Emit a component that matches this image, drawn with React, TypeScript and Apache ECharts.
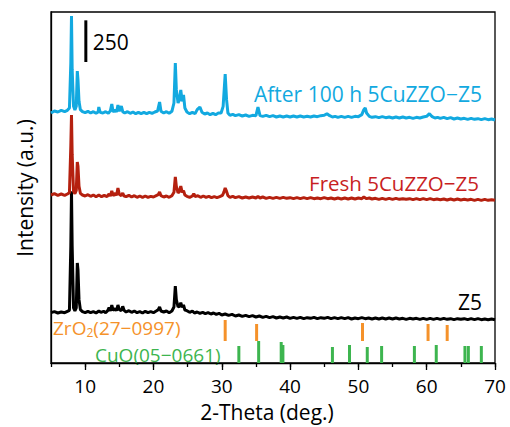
import React, { useEffect, useRef } from "react";
import * as echarts from "echarts";

// 2-Theta (deg.) vs intensity (counts, stacked with offsets)
const z5: number[][] = [
  [5, 302], [5.5, 308], [6, 300], [6.5, 306], [7, 302], [7.4, 310], [7.7, 316], [7.9, 700], [8.0, 1030], [8.1, 700], [8.3, 330], [8.5, 312], [8.7, 330], [8.85, 600], [8.95, 560], [9.1, 380], [9.3, 320], [9.6, 308],
  [10, 302], [10.4, 310], [10.8, 302], [11.2, 308], [11.6, 300], [12.0, 312], [12.3, 304], [12.7, 310], [13.0, 302], [13.3, 314], [13.5, 332], [13.7, 312], [13.9, 348], [14.1, 316], [14.4, 326], [14.6, 314], [14.8, 348], [15.0, 320], [15.3, 314], [15.5, 340], [15.7, 316],
  [16.0, 306], [16.4, 314], [16.8, 304], [17.2, 312], [17.6, 302], [18.0, 308], [18.4, 300], [18.8, 310], [19.2, 302], [19.6, 308], [20.0, 302], [20.4, 312], [20.7, 320], [20.9, 336], [21.1, 312], [21.5, 306], [21.9, 312], [22.3, 302], [22.7, 312],
  [23.0, 336], [23.2, 462], [23.35, 380], [23.6, 336], [23.8, 340], [24.0, 362], [24.2, 334], [24.4, 348], [24.6, 318], [24.9, 314], [25.3, 304], [25.7, 312], [26.0, 300], [26.4, 306], [26.8, 298], [27.2, 304], [27.6, 296], [28.0, 302], [28.4, 294], [28.8, 300], [29.2, 292], [29.6, 298],
  [30.0, 288], [30.5, 294], [31.0, 286], [31.5, 292], [32.0, 282], [32.5, 288], [33.0, 280], [33.5, 286], [34.0, 278], [34.5, 284], [35.0, 276], [35.5, 282], [36.0, 274], [36.5, 280], [37.0, 272], [37.5, 278], [38.0, 270], [38.5, 276], [39.0, 270], [39.5, 276],
  [40.0, 268], [40.5, 274], [41.0, 268], [41.5, 274], [42.0, 266], [42.5, 272], [43.0, 268], [43.5, 274], [44.0, 266], [44.5, 272], [45.0, 268], [45.5, 274], [46.0, 266], [46.5, 272], [47.0, 266], [47.5, 272], [48.0, 266], [48.5, 272], [49.0, 264], [49.5, 270],
  [50.0, 266], [50.5, 272], [51.0, 266], [51.5, 270], [52.0, 264], [52.5, 270], [53.0, 264], [53.5, 270], [54.0, 264], [54.5, 270], [55.0, 264], [55.5, 270], [56.0, 264], [56.5, 268], [57.0, 262], [57.5, 268], [58.0, 264], [58.5, 268], [59.0, 262], [59.5, 268],
  [60.0, 262], [60.5, 268], [61.0, 262], [61.5, 268], [62.0, 262], [62.5, 268], [63.0, 262], [63.5, 266], [64.0, 260], [64.5, 266], [65.0, 262], [65.5, 266], [66.0, 260], [66.5, 266], [67.0, 260], [67.5, 266], [68.0, 260], [68.5, 264], [69.0, 260], [69.5, 264], [70.0, 260],
];

const fresh: number[][] = [
  [5, 1008], [5.5, 1016], [6, 1006], [6.5, 1014], [7, 1006], [7.4, 1014], [7.7, 1022], [7.9, 1300], [8.0, 1488], [8.1, 1250], [8.3, 1030], [8.5, 1016], [8.7, 1036], [8.85, 1206], [8.95, 1180], [9.1, 1060], [9.3, 1018], [9.6, 1008],
  [10, 1002], [10.4, 1010], [10.8, 1000], [11.2, 1008], [11.6, 998], [12.0, 1008], [12.4, 998], [12.8, 1006], [13.2, 998], [13.5, 1014], [13.7, 1002], [13.9, 1032], [14.1, 1004], [14.4, 1018], [14.6, 1006], [14.8, 1050], [15.0, 1012], [15.3, 1004], [15.5, 1020], [15.7, 1002],
  [16.0, 998], [16.4, 1006], [16.8, 996], [17.2, 1004], [17.6, 994], [18.0, 1002], [18.4, 994], [18.8, 1002], [19.2, 994], [19.6, 1000], [20.0, 996], [20.4, 1004], [20.7, 1010], [20.9, 1026], [21.1, 1004], [21.5, 996], [21.9, 1002], [22.3, 994], [22.7, 1004],
  [23.0, 1024], [23.2, 1116], [23.35, 1060], [23.6, 1020], [23.8, 1030], [24.0, 1062], [24.2, 1024], [24.4, 1034], [24.6, 1008], [24.9, 1000], [25.3, 994], [25.7, 1002], [25.9, 1016], [26.1, 998], [26.5, 1004], [26.9, 994], [27.3, 1002], [27.7, 994], [28.1, 1000], [28.5, 992], [28.9, 998], [29.3, 992], [29.7, 998],
  [30.1, 1006], [30.3, 1024], [30.5, 1050], [30.7, 1030], [30.9, 1004], [31.2, 994], [31.6, 1000], [32.0, 992], [32.5, 998], [33.0, 990], [33.5, 996], [34.0, 990], [34.5, 996], [35.0, 990], [35.3, 1000], [35.6, 990], [36.0, 996], [36.5, 988], [37.0, 994], [37.5, 988], [38.0, 994], [38.5, 988], [39.0, 994], [39.5, 988],
  [40.0, 992], [40.5, 986], [41.0, 992], [41.5, 986], [42.0, 992], [42.5, 986], [43.0, 992], [43.5, 986], [44.0, 990], [44.5, 986], [45.0, 992], [45.5, 986], [46.0, 990], [46.5, 984], [47.0, 990], [47.5, 984], [48.0, 990], [48.5, 984], [49.0, 990], [49.5, 984],
  [50.0, 990], [50.5, 986], [50.8, 996], [51.2, 986], [51.6, 990], [52.0, 984], [52.5, 988], [53.0, 982], [53.5, 988], [54.0, 982], [54.5, 988], [55.0, 982], [55.5, 988], [56.0, 982], [56.5, 986], [57.0, 982], [57.5, 986], [58.0, 980], [58.5, 986], [59.0, 980], [59.5, 986],
  [60.0, 980], [60.5, 986], [61.0, 980], [61.5, 984], [62.0, 980], [62.5, 984], [63.0, 978], [63.5, 984], [64.0, 978], [64.5, 984], [65.0, 978], [65.5, 982], [66.0, 978], [66.5, 982], [67.0, 976], [67.5, 982], [68.0, 976], [68.5, 982], [69.0, 976], [69.5, 980], [70.0, 976],
];

const after: number[][] = [
  [5, 1500], [5.5, 1512], [6, 1506], [6.5, 1516], [7, 1508], [7.4, 1516], [7.7, 1530], [7.9, 1800], [8.0, 2082], [8.1, 1760], [8.3, 1540], [8.5, 1518], [8.7, 1540], [8.85, 1752], [8.95, 1700], [9.1, 1570], [9.3, 1520], [9.6, 1508],
  [10, 1502], [10.4, 1510], [10.8, 1500], [11.2, 1508], [11.6, 1498], [11.9, 1506], [12.0, 1536], [12.2, 1504], [12.6, 1500], [13.0, 1508], [13.4, 1498], [13.7, 1514], [13.9, 1554], [14.1, 1506], [14.4, 1520], [14.6, 1506], [14.8, 1548], [15.0, 1510], [15.3, 1542], [15.5, 1508], [15.8, 1500],
  [16.2, 1508], [16.6, 1498], [17.0, 1506], [17.4, 1496], [17.8, 1504], [18.2, 1496], [18.6, 1504], [19.0, 1496], [19.4, 1504], [19.8, 1498], [20.2, 1506], [20.6, 1512], [20.9, 1566], [21.1, 1510], [21.5, 1500], [21.9, 1508], [22.3, 1498], [22.7, 1510],
  [23.0, 1560], [23.2, 1800], [23.35, 1640], [23.6, 1560], [23.8, 1580], [24.0, 1638], [24.2, 1570], [24.4, 1608], [24.6, 1530], [24.9, 1506], [25.3, 1496], [25.7, 1504], [26.1, 1496], [26.4, 1520], [26.8, 1536], [27.1, 1504], [27.5, 1494], [27.9, 1500], [28.3, 1490], [28.7, 1498], [29.1, 1490], [29.5, 1500],
  [29.9, 1500], [30.2, 1540], [30.5, 1734], [30.7, 1580], [30.9, 1500], [31.2, 1486], [31.6, 1492], [32.0, 1484], [32.5, 1490], [33.0, 1482], [33.5, 1488], [34.0, 1480], [34.5, 1486], [35.0, 1484], [35.3, 1536], [35.6, 1484], [36.0, 1480], [36.5, 1486], [37.0, 1478], [37.5, 1484], [38.0, 1476], [38.5, 1482], [39.0, 1476], [39.5, 1482],
  [40.0, 1476], [40.5, 1482], [41.0, 1476], [41.5, 1482], [42.0, 1476], [42.5, 1480], [43.0, 1476], [43.5, 1482], [44.0, 1478], [44.5, 1484], [45.0, 1486], [45.4, 1496], [45.8, 1484], [46.2, 1476], [46.6, 1480], [47.0, 1474], [47.5, 1480], [48.0, 1474], [48.5, 1480], [49.0, 1474], [49.5, 1480],
  [50.0, 1478], [50.5, 1490], [50.8, 1520], [51.0, 1530], [51.2, 1500], [51.6, 1480], [52.0, 1474], [52.5, 1478], [53.0, 1472], [53.5, 1478], [54.0, 1472], [54.5, 1476], [55.0, 1470], [55.5, 1476], [56.0, 1470], [56.5, 1476], [57.0, 1470], [57.5, 1474], [58.0, 1468], [58.5, 1474], [59.0, 1470], [59.5, 1476],
  [60.0, 1480], [60.4, 1496], [60.8, 1478], [61.2, 1470], [61.6, 1474], [62.0, 1468], [62.5, 1474], [63.0, 1466], [63.5, 1472], [64.0, 1464], [64.5, 1470], [65.0, 1464], [65.5, 1468], [66.0, 1462], [66.5, 1468], [67.0, 1462], [67.5, 1466], [68.0, 1460], [68.5, 1466], [69.0, 1460], [69.5, 1464], [70.0, 1458],
];

// Reference patterns (stick positions and heights)
const zro2Pos = [30.5, 35.1, 50.6, 60.2, 63.0];
const zro2Height = [126, 102, 108, 102, 96];
const cuoPos = [32.5, 35.4, 38.7, 38.95, 46.2, 48.7, 51.3, 53.4, 58.2, 61.4, 65.6, 66.1, 68.0];
const cuoHeight = [102, 132, 126, 108, 96, 108, 96, 102, 102, 108, 102, 102, 102];
const ZRO2_BASE = 132;
const CUO_BASE = 0;

// Scale bar (250 counts)
const scaleBar = [[10.1, 1806, 2056]];
const scaleLabel = "250";

const majorTicks = [10, 20, 30, 40, 50, 60, 70];

const FONT = "'Open Sans', 'Noto Sans', sans-serif";
const BLACK = "#000000";
const RED = "#B5200F";
const BLUE = "#12A9E0";
const ORANGE = "#F5922A";
const GREEN = "#3DB54F";

function stickSeries(pos: number[], h: number[], base: number, color: string) {
  return {
    type: "custom",
    xAxisIndex: 0,
    yAxisIndex: 0,
    encode: { x: 0, y: [1, 2] },
    data: pos.map((x, i) => [x, base, base + h[i]]),
    renderItem: (_p: any, api: any) => {
      const a = api.coord([api.value(0), api.value(1)]);
      const b = api.coord([api.value(0), api.value(2)]);
      return {
        type: "line",
        shape: { x1: a[0], y1: a[1], x2: b[0], y2: b[1] },
        style: { stroke: color, lineWidth: 3 },
      };
    },
    z: 3,
  };
}

function textWidth(t: string, size: number): number {
  const c = document.createElement("canvas").getContext("2d");
  if (!c) return t.length * size * 0.55;
  c.font = `${size}px ${FONT}`;
  return c.measureText(t).width;
}

export default function App() {
  const ref = useRef<HTMLDivElement>(null);
  useEffect(() => {
    if (!ref.current) return;
    const chart = echarts.init(ref.current, undefined, { renderer: "svg" });
    const lineBase = {
      type: "line",
      showSymbol: false,
      symbol: "none",
      xAxisIndex: 0,
      yAxisIndex: 0,
    };
    const zrX = 53;
    const zrY = 328;
    const wZrO = textWidth("ZrO", 19);
    const wSub = textWidth("2", 12);
    chart.setOption({
      animation: false,
      grid: { left: 51, right: 15, top: 12, bottom: 64, show: true, borderColor: "#000", borderWidth: 1.3, backgroundColor: "transparent" },
      xAxis: [
        {
          type: "value",
          min: 5,
          max: 70,
          interval: 5,
          position: "bottom",
          axisLine: { show: true, lineStyle: { color: "#000", width: 1.3 } },
          axisTick: { show: true, length: 4, lineStyle: { color: "#000", width: 1.3 } },
          axisLabel: {
            color: "#000",
            fontSize: 19,
            fontFamily: FONT,
            margin: 13,
            formatter: (v: number) => (v % 10 === 0 ? String(v) : ""),
          },
          splitLine: { show: false },
        },
        {
          type: "value",
          min: 5,
          max: 70,
          interval: 5,
          position: "bottom",
          axisLine: { show: false },
          axisTick: { show: true, length: 7, customValues: majorTicks, lineStyle: { color: "#000", width: 1.3 } },
          axisLabel: { show: false },
          splitLine: { show: false },
        },
      ],
      yAxis: {
        type: "value",
        min: 0,
        max: 2106,
        axisLine: { show: true, lineStyle: { color: "#000", width: 1.3 } },
        axisTick: { show: false },
        axisLabel: { show: false },
        splitLine: { show: false },
      },
      series: [
        { ...lineBase, name: "Z5", data: z5, lineStyle: { color: BLACK, width: 3 }, z: 2 },
        { ...lineBase, name: "Fresh 5CuZZO−Z5", data: fresh, lineStyle: { color: RED, width: 3 }, z: 2 },
        { ...lineBase, name: "After 100 h 5CuZZO−Z5", data: after, lineStyle: { color: BLUE, width: 3 }, z: 2 },
        stickSeries(zro2Pos, zro2Height, ZRO2_BASE, ORANGE),
        stickSeries(cuoPos, cuoHeight, CUO_BASE, GREEN),
        {
          type: "custom",
          xAxisIndex: 0,
          yAxisIndex: 0,
          encode: { x: 0, y: [1, 2] },
          data: scaleBar,
          renderItem: (_p: any, api: any) => {
            const a = api.coord([api.value(0), api.value(1)]);
            const b = api.coord([api.value(0), api.value(2)]);
            return {
              type: "group",
              children: [
                { type: "line", shape: { x1: a[0], y1: a[1], x2: b[0], y2: b[1] }, style: { stroke: "#000", lineWidth: 3 } },
                {
                  type: "text",
                  x: a[0] + 7,
                  y: (a[1] + b[1]) / 2 + 1,
                  style: { text: scaleLabel, fill: "#000", fontSize: 21, fontFamily: FONT, align: "left", verticalAlign: "middle" },
                },
              ],
            };
          },
          z: 4,
        },
      ],
      graphic: [
        { type: "text", x: 482, y: 94, style: { text: "After 100 h 5CuZZO−Z5", fill: BLUE, fontSize: 21, fontFamily: FONT, align: "right", verticalAlign: "middle" } },
        { type: "text", x: 479, y: 183, style: { text: "Fresh 5CuZZO−Z5", fill: "#C81E22", fontSize: 20.5, fontFamily: FONT, align: "right", verticalAlign: "middle" } },
        { type: "text", x: 482, y: 302, style: { text: "Z5", fill: "#000", fontSize: 21, fontFamily: FONT, align: "right", verticalAlign: "middle" } },
        { type: "text", x: zrX, y: zrY, style: { text: "ZrO", fill: ORANGE, fontSize: 19, fontFamily: FONT, align: "left", verticalAlign: "middle" } },
        { type: "text", x: zrX + wZrO, y: zrY + 4.5, style: { text: "2", fill: ORANGE, fontSize: 12, fontFamily: FONT, align: "left", verticalAlign: "middle" } },
        { type: "text", x: zrX + wZrO + wSub, y: zrY, style: { text: "(27−0997)", fill: ORANGE, fontSize: 19, fontFamily: FONT, align: "left", verticalAlign: "middle" } },
        { type: "text", x: 95, y: 354.5, style: { text: "CuO(05−0661)", fill: GREEN, fontSize: 19, fontFamily: FONT, align: "left", verticalAlign: "middle" } },
        { type: "text", x: 267, y: 412, style: { text: "2-Theta (deg.)", fill: "#000", fontSize: 21, fontFamily: FONT, align: "center", verticalAlign: "middle" } },
        { type: "text", x: 25, y: 188, rotation: Math.PI / 2, style: { text: "Intensity (a.u.)", fill: "#000", fontSize: 21, fontFamily: FONT, align: "center", verticalAlign: "middle" } },
      ],
    });
    return () => chart.dispose();
  }, []);
  return <div ref={ref} style={{ position: "fixed", left: 0, top: 0, width: 510, height: 427, background: "#fff" }} />;
}
